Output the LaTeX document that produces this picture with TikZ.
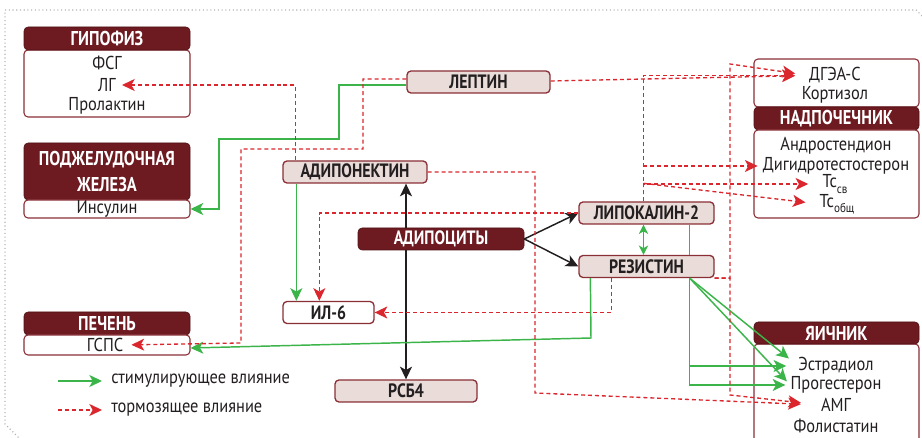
\documentclass[tikz,border=0pt]{standalone}
\usepackage{fontspec}
\setmainfont[FakeStretch=0.88]{PT Sans}
\newfontfamily\hdfont[FakeStretch=0.82]{PT Sans}
\usetikzlibrary{arrows.meta,calc}

\definecolor{hdred}{HTML}{6D1A20}
\definecolor{boxpink}{HTML}{EADCD9}
\definecolor{edgered}{HTML}{8A2F36}
\definecolor{stimgreen}{HTML}{3BB54A}
\definecolor{inhred}{HTML}{DA262C}
\definecolor{effblack}{HTML}{231F20}

\begin{document}
\begin{tikzpicture}[x=0.75pt,y=-0.75pt,
  hdr/.style={draw=hdred!70!black, fill=hdred, rounded corners=3pt, text=white,
    inner sep=0pt, align=center, font=\hdfont\bfseries\fontsize{15}{19.5}\selectfont},
  panel/.style={draw=edgered, line width=0.8pt, fill=white, rounded corners=3pt, inner sep=0pt},
  hormone/.style={draw=edgered, line width=1pt, fill=boxpink, rounded corners=3pt,
    inner sep=0pt, minimum height=16.5pt, text=effblack,
    font=\hdfont\bfseries\fontsize{14.5}{16}\selectfont},
  item/.style={inner sep=0pt, text=effblack, font=\fontsize{14}{16}\selectfont},
  tip/.style={-{Stealth[length=9.5pt,width=9pt,inset=2.5pt]}},
  stim/.style={tip, draw=stimgreen, line width=1.1pt},
  inh/.style={tip, draw=inhred, line width=1pt, dash pattern=on 3pt off 2.2pt},
  eff/.style={tip, draw=effblack, line width=1.1pt},
]
  \clip (0,0) rectangle (922,438);
  % frame
  \draw[gray!60, dotted, line width=0.8pt] (922,16) -- (916,10) -- (5,10) -- (5,424) -- (19,438);

  % pituitary
  \node[panel, minimum width=124.5pt, minimum height=50.25pt] (hypobody) at (107,83.5) {};
  \node[hdr, minimum width=124.5pt, minimum height=17.25pt] (hypo) at (107,38.5) {ГИПОФИЗ};
  \node[item] (fsg) at (107,63) {ФСГ};
  \node[item] (lg) at (107,85) {ЛГ};
  \node[item] (prl) at (107,106) {Пролактин};

  % pancreas
  \node[hdr, minimum width=124.5pt, minimum height=42.75pt] (panc) at (107,171.5) {ПОДЖЕЛУДОЧНАЯ\\ЖЕЛЕЗА};
  \node[panel, item, minimum width=124.5pt, minimum height=13.5pt] (ins) at (107,209) {Инсулин};

  % liver
  \node[hdr, minimum width=124.5pt, minimum height=17.25pt] (liver) at (107,323.5) {ПЕЧЕНЬ};
  \node[panel, minimum width=124.5pt, minimum height=15pt] (liverbody) at (107,345) {};
  \node[item] (gsps) at (105,345) {ГСПС};

  % adrenal
  \node[panel, minimum width=123.75pt, minimum height=36pt] (adrtop) at (836.5,83) {};
  \node[hdr, minimum width=123.75pt, minimum height=17.25pt] (adr) at (836.5,118.5) {НАДПОЧЕЧНИК};
  \node[panel, minimum width=123.75pt, minimum height=66pt] (adrbody) at (836.5,174) {};
  \node[item] (dgea) at (835,75.5) {ДГЭА-С};
  \node[item] (kort) at (835,94.5) {Кортизол};
  \node[item] (andr) at (836,146) {Андростендион};
  \node[item] (dht) at (836,166) {Дигидротестостерон};
  \node[item] (tcsv) at (835,184) {Тс\raisebox{-4pt}{\fontsize{9.5}{9}\selectfont св}};
  \node[item] (tcob) at (837,204) {Тс\raisebox{-4pt}{\fontsize{9.5}{9}\selectfont общ}};

  % ovary
  \node[panel, minimum width=123.75pt, minimum height=78pt] (ovbody) at (836.5,396) {};
  \node[hdr, minimum width=123.75pt, minimum height=16.5pt] (ov) at (836.5,333) {ЯИЧНИК};
  \node[item] (estr) at (836,366) {Эстрадиол};
  \node[item] (prog) at (836,385) {Прогестерон};
  \node[item] (amg) at (836,405) {АМГ};
  \node[item] (fol) at (836,426) {Фолистатин};

  % adipokines
  \node[hormone, minimum width=107.25pt] (lep) at (478.5,82) {ЛЕПТИН};
  \node[hormone, minimum width=108pt] (adipon) at (355,172) {АДИПОНЕКТИН};
  \node[hdr, minimum width=124.5pt, minimum height=16.5pt,
    font=\hdfont\bfseries\fontsize{14.5}{16}\selectfont] (adipo) at (441,239) {АДИПОЦИТЫ};
  \node[hormone, minimum width=101.25pt] (lipo) at (646.5,213) {ЛИПОКАЛИН-2};
  \node[hormone, minimum width=101.25pt] (resist) at (646.5,266.5) {РЕЗИСТИН};
  \node[hormone, fill=white, minimum width=68.25pt] (il6) at (328.5,312.5) {ИЛ-6};
  \node[hormone, minimum width=106.5pt] (rsb) at (406,391) {РСБ4};

  % legend
  \coordinate (stimtail) at (58,381);
  \coordinate (inhtail) at (58,410);
  \node[item, anchor=west] (stimtxt) at (111,381) {стимулирующее влияние};
  \node[item, anchor=west] (inhtxt) at (111,410) {тормозящее влияние};
  \draw[stim, shorten >=6.75pt] (stimtail) -- (stimtxt.west);
  \draw[inh, shorten >=6.75pt] (inhtail) -- (inhtxt.west);

  % black: adipocytes
  \draw[eff] (adipo.east) -- (lipo.west);
  \draw[eff] (adipo.east) -- (resist.west);
  \draw[eff] (adipo.north -| rsb.north) -- (adipon.south -| rsb.north);
  \draw[eff] (adipo.south -| rsb.north) -- (rsb.north);

  % green: stimulating
  \draw[stim] ($(lep.west)+(0,3)$) -| (339,139) -| (219,209) -- (ins.east);
  \draw[stim] ($(adipon.south west)+(14,0)$) -- ($(il6.north west)+(14,0)$);
  \draw[stim] ($(resist.south west)+(12,0)$) -- (591,338) -- ($(liverbody.east)+(0,3)$);
  \draw[stim, {Stealth[length=7pt,width=7pt,inset=2pt]}-{Stealth[length=7pt,width=7pt,inset=2pt]}]
    ($(lipo.south)+(-3,0)$) -- ($(resist.north)+(-3,0)$);
  \draw[stimgreen, line width=1.1pt] ($(lipo.south east)+(-25,0)$) -- ($(resist.north east)+(-25,0)$);
  \draw[stim, shorten >=9pt] ($(resist.south east)+(-25,0)$) |- (estr.west);
  \draw[stim, shorten >=3.75pt] ($(resist.south east)+(-25,0)$) |- (prog.west);
  \draw[stim, shorten >=9pt] ($(resist.south east)+(-25,0)$) -- (estr.west);
  \draw[stim, shorten >=3.75pt] ($(resist.south east)+(-25,0)$) -- (prog.west);

  % red: inhibiting
  \draw[inh, shorten >=6pt] ($(lep.west)+(0,-3)$) -| (363,149) -| (241,343) -- (gsps.east);
  \draw[inh, shorten >=4.5pt] ($(adipon.north west)+(13,0)$) |- (lg.east);
  \draw[inh, shorten >=10.5pt] ($(lep.east)+(0,-1)$) -- (dgea.west);
  \draw[inh, shorten >=10.5pt] ($(lipo.north)+(-3,0)$) |- (dgea.west);
  \draw[inh, shorten >=3.75pt] ($(lipo.north)+(-3,0)$) |- (dht.west);
  \draw[inh, shorten >=10.5pt] ($(lipo.north)+(-3,0)$) |- (tcsv.west);
  \draw[inh, shorten >=10.5pt] ($(lipo.north)+(-3,-18)$) -- (tcob.west);
  \draw[inh, shorten >=10.5pt] (resist.south east) -| (730,64) -- (dgea.west);
  \draw[inh, shorten >=15pt] (resist.south east) -| (730,395) -- (amg.west);
  \draw[inh, shorten >=15pt] (adipon.east) -| (535,393) -- (amg.west);
  \draw[inh] (lipo.west) -| ($(il6.north west)+(37,0)$);
  \draw[inh] ($(resist.south west)+(33,0)$) |- (il6.east);
\end{tikzpicture}
\end{document}
